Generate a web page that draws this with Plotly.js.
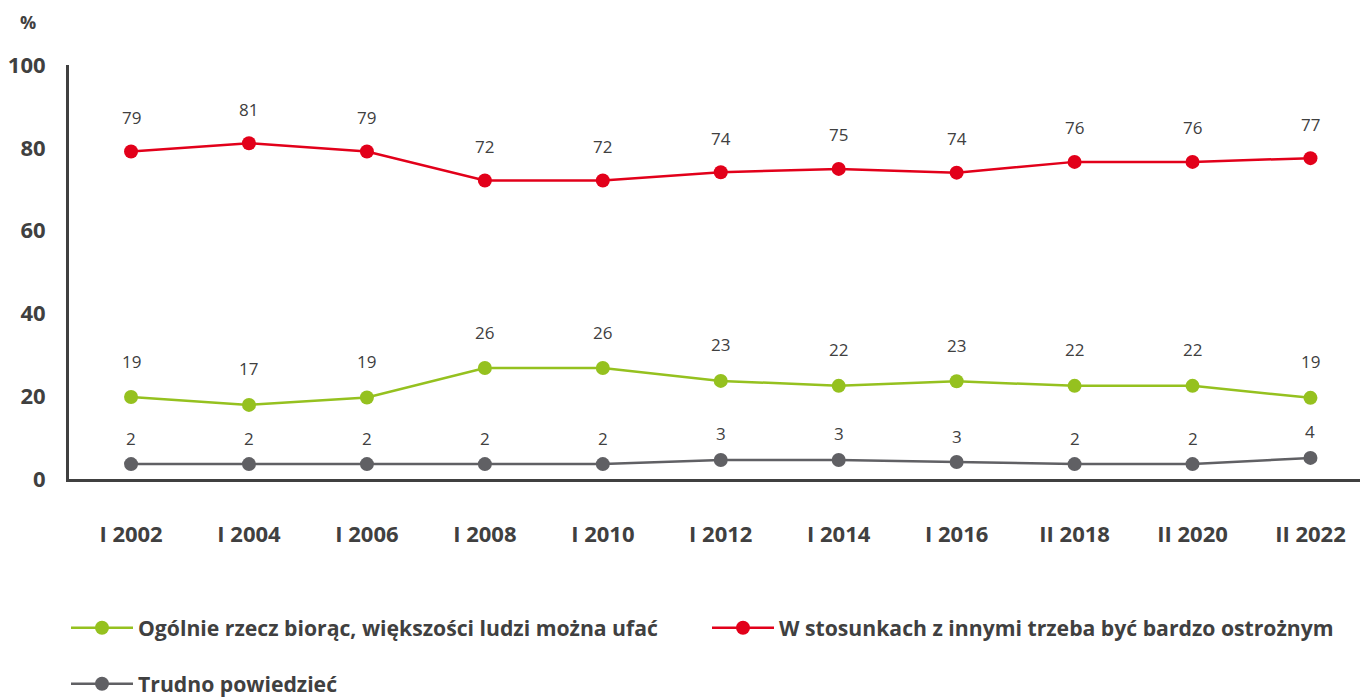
<!DOCTYPE html>
<html><head><meta charset="utf-8">
<script src="https://cdn.plot.ly/plotly-3.0.1.min.js"></script>
<style>html,body{margin:0;padding:0;background:#fff}#c{width:1360px;height:698px}</style>
</head><body><div id="c"></div>
<script>
const categories = ["I 2002","I 2004","I 2006","I 2008","I 2010","I 2012","I 2014","I 2016","II 2018","II 2020","II 2022"];
const trustValues   = [19.8, 17.9, 19.7, 26.8, 26.8, 23.7, 22.5, 23.6, 22.5, 22.5, 19.6];
const trustLabels   = [19, 17, 19, 26, 26, 23, 22, 23, 22, 22, 19];
const carefulValues = [79.1, 81.1, 79.1, 72.1, 72.1, 74.1, 74.9, 74.0, 76.6, 76.6, 77.5];
const carefulLabels = [79, 81, 79, 72, 72, 74, 75, 74, 76, 76, 77];
const hardValues    = [3.6, 3.6, 3.6, 3.6, 3.6, 4.6, 4.6, 4.1, 3.6, 3.6, 5.1];
const hardLabels    = [2, 2, 2, 2, 2, 3, 3, 3, 2, 2, 4];
const yTicks = [0, 20, 40, 60, 80, 100];
const names = ["Ogólnie rzecz biorąc, większości ludzi można ufać",
               "W stosunkach z innymi trzeba być bardzo ostrożnym",
               "Trudno powiedzieć"];

const FONT = "Open Sans, Lato, sans-serif";
const TXT = "#404040";
const GREEN = "#95c11f", RED = "#e2001a", GRAY = "#606064";

function tr(y, name, color, legend){
  return {x: categories, y: y, name: name, type: "scatter", mode: "lines+markers",
    line: {color: color, width: 2.5}, marker: {color: color, size: 14},
    legend: legend, cliponaxis: false, hoverinfo: "skip"};
}
const data = [
  tr(trustValues, names[0], GREEN, "legend"),
  tr(carefulValues, names[1], RED, "legend"),
  tr(hardValues, names[2], GRAY, "legend2")
];
const annotations = [];
function labels(vals, labs, shift){
  vals.forEach((v,i)=>annotations.push({x: categories[i], y: v, xref:"x", yref:"y",
    text: String(labs[i]), showarrow:false, yshift: shift,
    font:{family: FONT, size: 17, color: TXT}}));
}
labels(trustValues, trustLabels, 36);
labels(carefulValues, carefulLabels, 34);
labels(hardValues, hardLabels, 26);
const PW = 1291, PH = 414, L = 69, B = 479;
annotations.push({x: (28-L)/PW, y: (B-22)/PH, xref:"paper", yref:"paper", text:"%", showarrow:false,
  xanchor:"center", yanchor:"middle",
  font:{family: FONT, size: 18, color: TXT, weight: 700}});

const layout = {
  width: 1360, height: 698,
  margin: {l: L, r: 0, t: 65, b: 698-B, autoexpand: false},
  paper_bgcolor: "#fff", plot_bgcolor: "#fff",
  showlegend: true,
  xaxis: {type: "category", range: [-0.526, 10.42], showgrid: false, zeroline: false, automargin: false,
    showline: true, linecolor: TXT, linewidth: 3, ticks: "", ticklabelstandoff: 34,
    tickfont: {family: FONT, size: 22, color: TXT, weight: 700}, fixedrange: true},
  yaxis: {range: [0, 100], tickvals: yTicks, showgrid: false, zeroline: false, automargin: false,
    showline: true, linecolor: TXT, linewidth: 3, ticks: "", ticklabelstandoff: 16,
    tickfont: {family: FONT, size: 22, color: TXT, weight: 700}, fixedrange: true},
  legend: {orientation: "h", x: (66-L)/PW, xanchor: "left", y: (B-628)/PH, yanchor: "middle",
    entrywidth: 564, entrywidthmode: "pixels", itemwidth: 62,
    font: {family: FONT, size: 21.2, color: TXT, weight: 700}, bgcolor: "rgba(0,0,0,0)"},
  legend2: {orientation: "h", x: (66-L)/PW, xanchor: "left", y: (B-684)/PH, yanchor: "middle",
    itemwidth: 62,
    font: {family: FONT, size: 21.2, color: TXT, weight: 700}, bgcolor: "rgba(0,0,0,0)"},
  annotations: annotations
};
Plotly.newPlot("c", data, layout, {displayModeBar: false, staticPlot: true});
</script></body></html>
